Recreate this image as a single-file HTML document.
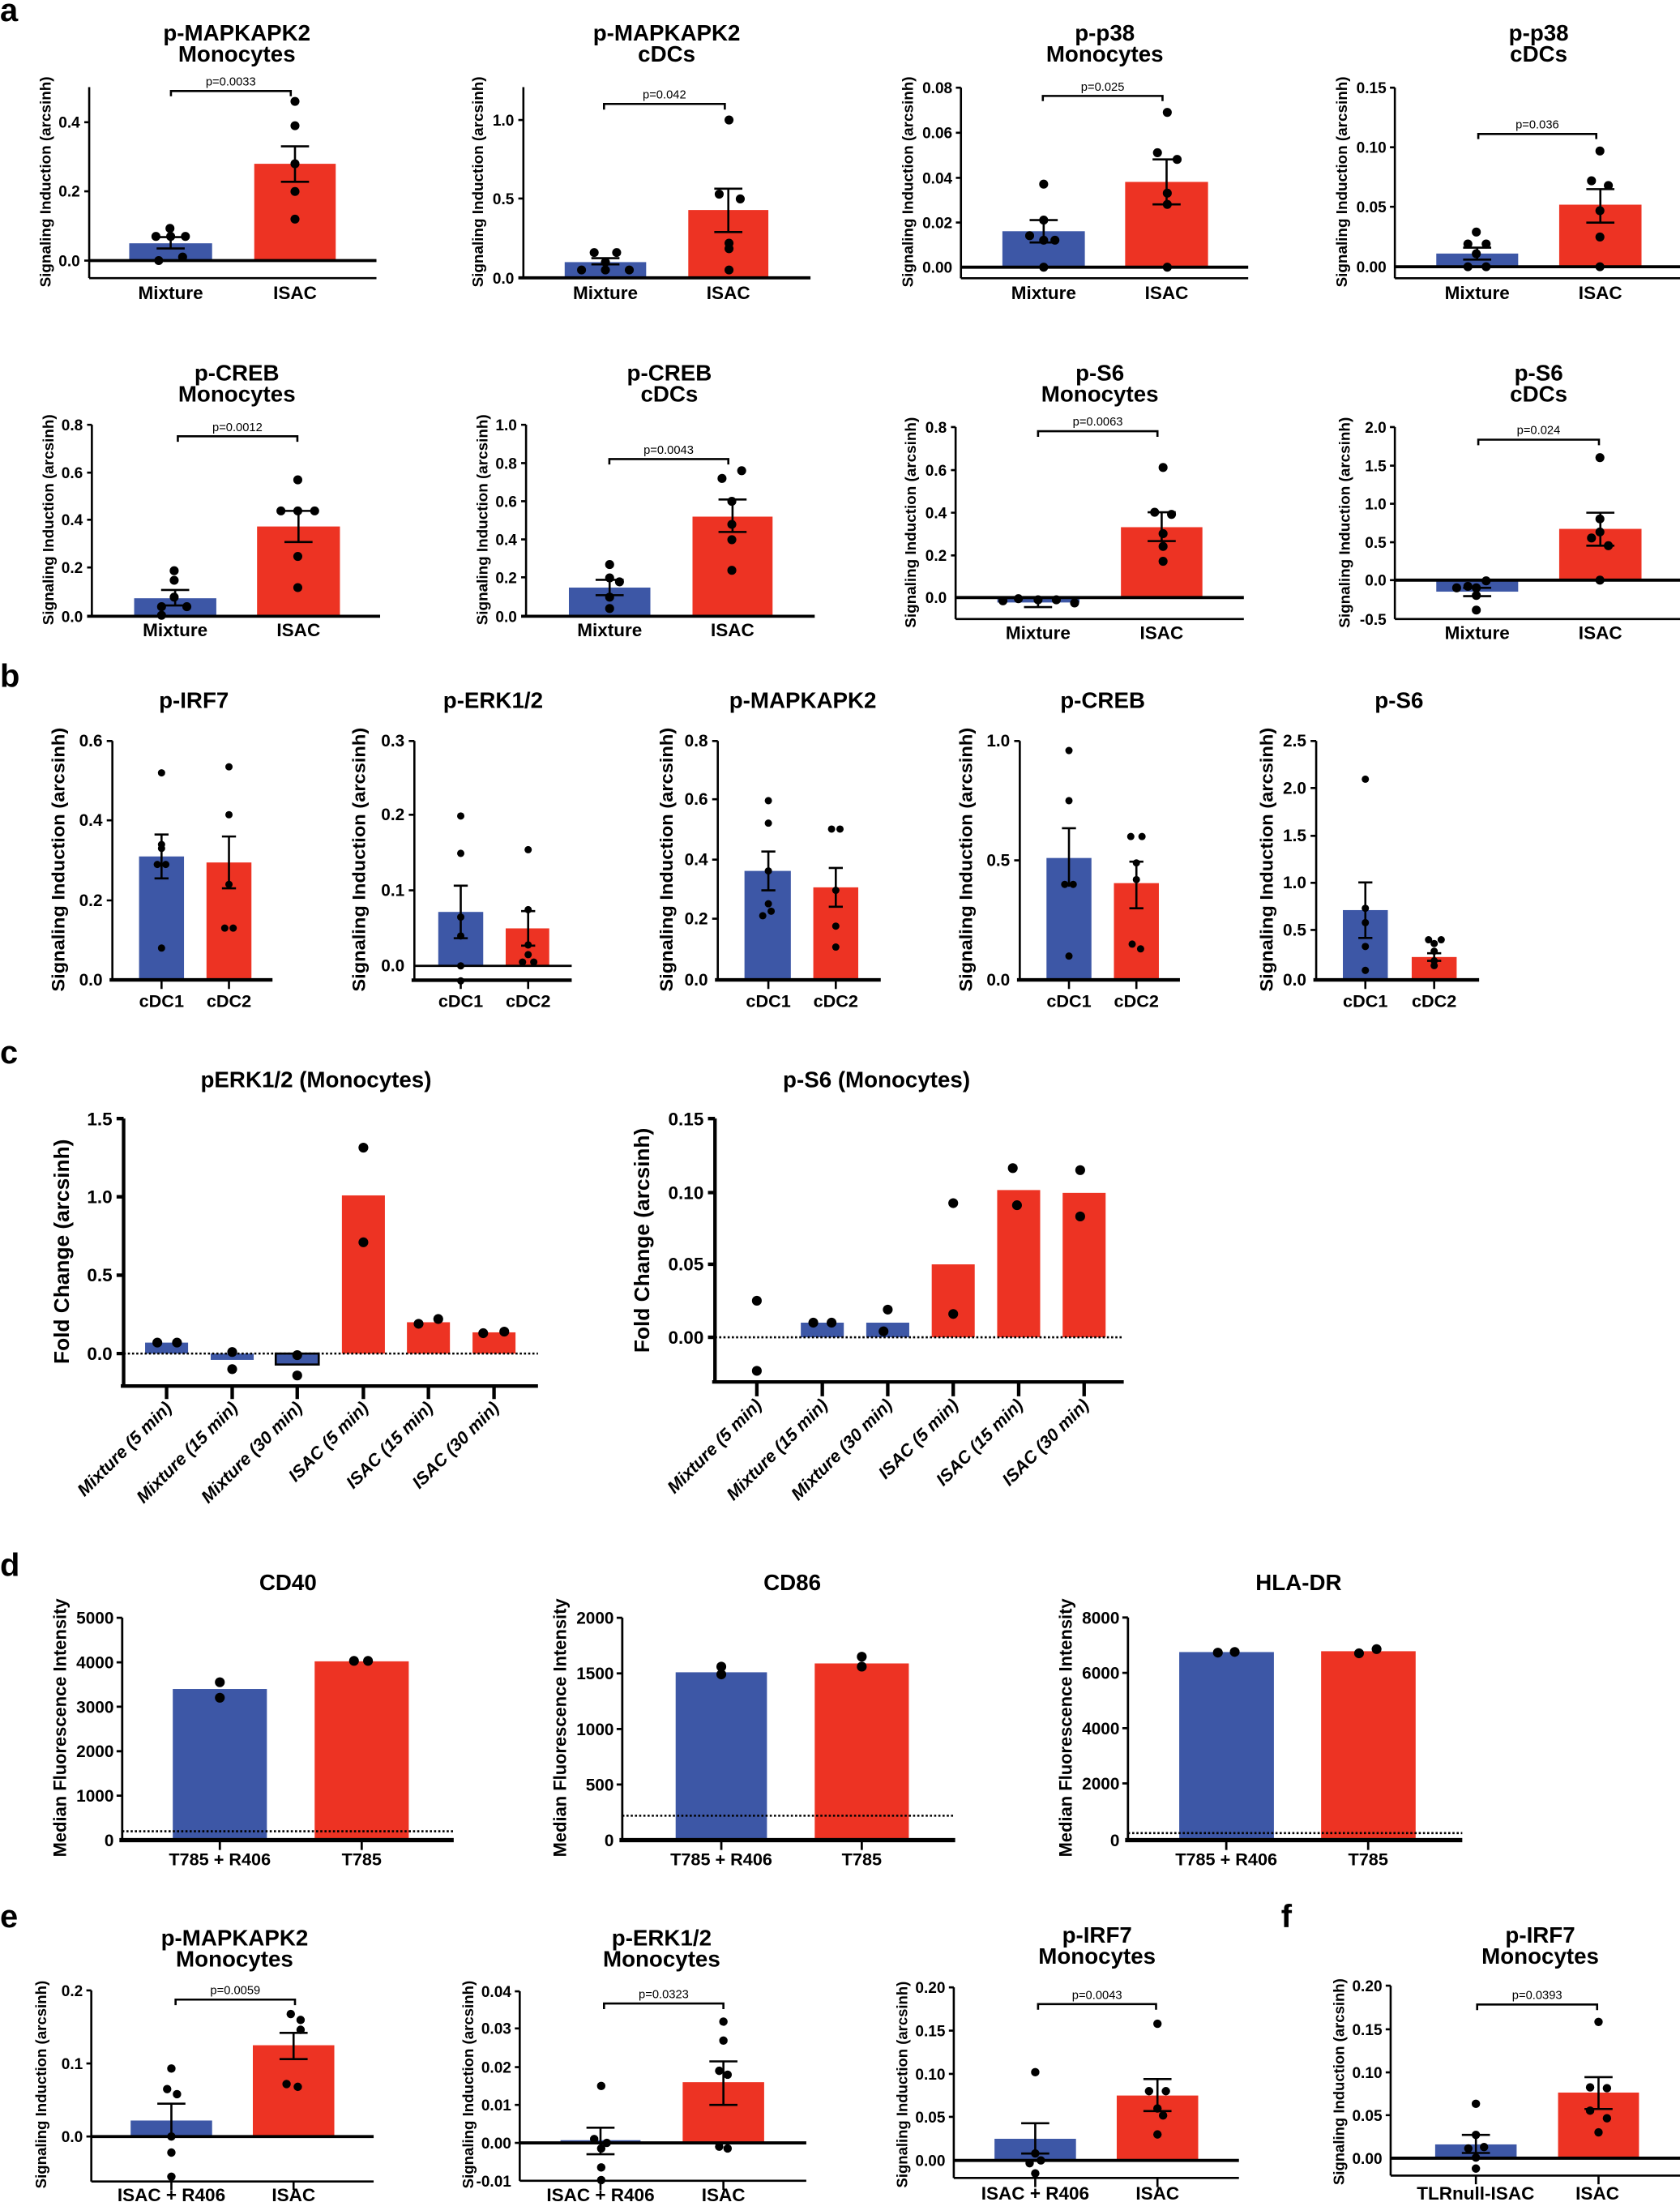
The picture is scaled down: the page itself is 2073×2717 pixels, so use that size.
<!DOCTYPE html>
<html><head><meta charset="utf-8"><style>
html,body{margin:0;padding:0;background:#fff}
svg{display:block}
text{font-family:"Liberation Sans",Arial,sans-serif;fill:#000}
.t{font-weight:bold;font-size:16px;text-anchor:middle}
.tk{font-weight:bold;font-size:11px;text-anchor:end}
.tkb{font-weight:bold;font-size:12px;text-anchor:end}
.tkc{font-weight:bold;font-size:13px;text-anchor:end}
.xl{font-weight:bold;font-size:13px;text-anchor:middle}
.xlb{font-weight:bold;font-size:12.5px;text-anchor:middle}
.p{font-size:8.5px;text-anchor:middle}
.yl{font-weight:bold;font-size:10.5px;text-anchor:middle}
.ylb{font-weight:bold;font-size:13px;text-anchor:middle}
.L{font-weight:bold;font-size:23px}
.rx{font-weight:bold;font-style:italic;font-size:12.5px;text-anchor:end}
.B{fill:#3d57a6}.R{fill:#ed3323}
.ax{stroke:#000;fill:none;stroke-width:1.5}
.z{stroke:#000;stroke-width:2.2}
.e{stroke:#000;fill:none;stroke-width:1.5}
.dt{stroke:#000;stroke-width:1.5;stroke-dasharray:1.5 1.5}
</style></head><body>
<svg width="2073" height="2717" viewBox="0 0 1196 1567.6" preserveAspectRatio="none" xmlns="http://www.w3.org/2000/svg">
<rect width="1196" height="1567.6" fill="#fff"/>
<!-- panel letters -->
<text class="L" x="0" y="15">a</text>
<text class="L" x="0" y="489">b</text>
<text class="L" x="0" y="757">c</text>
<text class="L" x="0" y="1122">d</text>
<text class="L" x="0" y="1372">e</text>
<text class="L" x="912" y="1372">f</text>

<!-- ========== a1 ========== -->
<text class="t" x="168.6" y="29">p-MAPKAPK2</text><text class="t" x="168.6" y="44">Monocytes</text>
<rect class="B" x="92" y="173.2" width="59" height="12.3"/><rect class="R" x="181" y="116.6" width="58" height="68.9"/>
<path class="ax" d="M63.5 62V198M60 87H63.5M60 136.2H63.5M60 185.5H63.5"/>
<line class="z" x1="63.5" y1="185.5" x2="268" y2="185.5"/><line class="ax" x1="63.5" y1="198" x2="268" y2="198" stroke-width="1.8"/>
<text class="tk" x="57" y="91">0.4</text><text class="tk" x="57" y="140">0.2</text><text class="tk" x="57" y="189.5">0.0</text>
<path class="e" d="M121.5 176.9V168.8M111.5 176.9H131.5M111.5 168.8H131.5M210 129.4V104.2M200 129.4H220M200 104.2H220"/>
<g><circle cx="121" cy="162.6" r="3.2"/><circle cx="111" cy="168.3" r="3.2"/><circle cx="121.5" cy="168.3" r="3.2"/><circle cx="132" cy="168.3" r="3.2"/><circle cx="130" cy="183" r="3.2"/><circle cx="113" cy="185.5" r="3.2"/>
<circle cx="210" cy="72.2" r="3.2"/><circle cx="210" cy="89.5" r="3.2"/><circle cx="210" cy="116.6" r="3.2"/><circle cx="210" cy="136.3" r="3.2"/><circle cx="210" cy="156" r="3.2"/></g>
<path class="e" d="M121.7 68.5V64.8H207V68.5" stroke-width="1.2"/><text class="p" x="164.3" y="61">p=0.0033</text>
<text class="xl" x="121.5" y="213">Mixture</text><text class="xl" x="210" y="213">ISAC</text>
<text class="yl" transform="translate(36,129.5) rotate(-90)" textLength="150" lengthAdjust="spacingAndGlyphs">Signaling Induction (arcsinh)</text>

<!-- ========== a2 ========== -->
<text class="t" x="474.6" y="29">p-MAPKAPK2</text><text class="t" x="474.6" y="44">cDCs</text>
<rect class="B" x="402" y="186.6" width="58" height="11.2"/><rect class="R" x="490" y="149.5" width="57" height="48.3"/>
<path class="ax" d="M372.6 62V197.8M369 85.4H372.6M369 141.3H372.6"/>
<line class="z" x1="369" y1="197.8" x2="577" y2="197.8"/>
<text class="tk" x="366" y="89.5">1.0</text><text class="tk" x="366" y="145.3">0.5</text><text class="tk" x="366" y="201.8">0.0</text>
<path class="e" d="M431 188.2V183.8M421 188.2H441M421 183.8H441M518.5 165.2V134.3M508.5 165.2H528.5M508.5 134.3H528.5"/>
<g><circle cx="423" cy="179.8" r="3.2"/><circle cx="439" cy="179.8" r="3.2"/><circle cx="431" cy="186.6" r="3.2"/><circle cx="414" cy="192.2" r="3.2"/><circle cx="431" cy="192.2" r="3.2"/><circle cx="448" cy="192.2" r="3.2"/>
<circle cx="519" cy="85.4" r="3.2"/><circle cx="512" cy="138.2" r="3.2"/><circle cx="527" cy="141.6" r="3.2"/><circle cx="519" cy="173.1" r="3.2"/><circle cx="519" cy="177" r="3.2"/><circle cx="519" cy="192.2" r="3.2"/></g>
<path class="e" d="M430 78V74H516V78" stroke-width="1.2"/><text class="p" x="473" y="70">p=0.042</text>
<text class="xl" x="431" y="213">Mixture</text><text class="xl" x="518.5" y="213">ISAC</text>
<text class="yl" transform="translate(344,129.5) rotate(-90)" textLength="150" lengthAdjust="spacingAndGlyphs">Signaling Induction (arcsinh)</text>

<!-- ========== a3 ========== -->
<text class="t" x="786.5" y="29">p-p38</text><text class="t" x="786.5" y="44">Monocytes</text>
<rect class="B" x="713.6" y="164.6" width="58.7" height="25.6"/><rect class="R" x="801" y="129.5" width="59" height="60.7"/>
<path class="ax" d="M684.1 62.4V198.1M680.5 62.4H684.1M680.5 94.5H684.1M680.5 126.6H684.1M680.5 158.4H684.1"/>
<line class="z" x1="684.1" y1="190.2" x2="888.6" y2="190.2"/><line class="ax" x1="684.1" y1="198.1" x2="888.6" y2="198.1" stroke-width="1.8"/>
<text class="tk" x="678" y="66.4">0.08</text><text class="tk" x="678" y="98.5">0.06</text><text class="tk" x="678" y="130.6">0.04</text><text class="tk" x="678" y="162.4">0.02</text><text class="tk" x="678" y="194.2">0.00</text>
<path class="e" d="M743 172.6V156.7M733 172.6H753M733 156.7H753M830.5 145.5V113.5M820.5 145.5H840.5M820.5 113.5H840.5"/>
<g><circle cx="743" cy="131.1" r="3.2"/><circle cx="743" cy="156.7" r="3.2"/><circle cx="733" cy="167.8" r="3.2"/><circle cx="751" cy="171" r="3.2"/><circle cx="743" cy="171" r="3.2"/><circle cx="743" cy="190.2" r="3.2"/>
<circle cx="831" cy="80" r="3.2"/><circle cx="824" cy="108.7" r="3.2"/><circle cx="838" cy="113.5" r="3.2"/><circle cx="831" cy="137.5" r="3.2"/><circle cx="831" cy="145.5" r="3.2"/><circle cx="831" cy="190.2" r="3.2"/></g>
<path class="e" d="M742.4 72V68.3H827.6V72" stroke-width="1.2"/><text class="p" x="785" y="64.5">p=0.025</text>
<text class="xl" x="743" y="213">Mixture</text><text class="xl" x="830.5" y="213">ISAC</text>
<text class="yl" transform="translate(650,129.5) rotate(-90)" textLength="150" lengthAdjust="spacingAndGlyphs">Signaling Induction (arcsinh)</text>

<!-- ========== a4 ========== -->
<text class="t" x="1095.4" y="29">p-p38</text><text class="t" x="1095.4" y="44">cDCs</text>
<rect class="B" x="1022.5" y="180.5" width="58.3" height="9.4"/><rect class="R" x="1110" y="145.7" width="58.6" height="44.2"/>
<path class="ax" d="M993 62.4V198.1M989.5 62.4H993M989.5 104.8H993M989.5 147.2H993"/>
<line class="z" x1="993" y1="189.9" x2="1196" y2="189.9"/><line class="ax" x1="993" y1="198.1" x2="1196" y2="198.1" stroke-width="1.8"/>
<text class="tk" x="987" y="66.4">0.15</text><text class="tk" x="987" y="108.8">0.10</text><text class="tk" x="987" y="151.2">0.05</text><text class="tk" x="987" y="193.9">0.00</text>
<path class="e" d="M1051.6 184.8V176.3M1041.6 184.8H1061.6M1041.6 176.3H1061.6M1139.3 158.5V134.65M1129.3 158.5H1149.3M1129.3 134.65H1149.3"/>
<g><circle cx="1051" cy="165.2" r="3.2"/><circle cx="1045" cy="173.7" r="3.2"/><circle cx="1058" cy="173.7" r="3.2"/><circle cx="1051" cy="180.6" r="3.2"/><circle cx="1045" cy="189.9" r="3.2"/><circle cx="1058" cy="189.9" r="3.2"/>
<circle cx="1139" cy="107.5" r="3.2"/><circle cx="1133" cy="128.7" r="3.2"/><circle cx="1145" cy="132.1" r="3.2"/><circle cx="1139" cy="150" r="3.2"/><circle cx="1139" cy="168.7" r="3.2"/><circle cx="1139" cy="189.9" r="3.2"/></g>
<path class="e" d="M1052.4 99V95.4H1136.4V99" stroke-width="1.2"/><text class="p" x="1094.4" y="91.5">p=0.036</text>
<text class="xl" x="1051.6" y="213">Mixture</text><text class="xl" x="1139.3" y="213">ISAC</text>
<text class="yl" transform="translate(959,129.5) rotate(-90)" textLength="150" lengthAdjust="spacingAndGlyphs">Signaling Induction (arcsinh)</text>

<!-- ========== a5 ========== -->
<text class="t" x="168.6" y="271">p-CREB</text><text class="t" x="168.6" y="286">Monocytes</text>
<rect class="B" x="95.5" y="425.9" width="58.5" height="12.8"/><rect class="R" x="183" y="374.8" width="59" height="63.9"/>
<path class="ax" d="M65.4 302.4V438.7M62 302.4H65.4M62 336.5H65.4M62 370H65.4M62 404H65.4"/>
<line class="z" x1="62" y1="438.7" x2="270.6" y2="438.7"/>
<text class="tk" x="59" y="306.4">0.8</text><text class="tk" x="59" y="340.5">0.6</text><text class="tk" x="59" y="374">0.4</text><text class="tk" x="59" y="408">0.2</text><text class="tk" x="59" y="442.7">0.0</text>
<path class="e" d="M124.7 431V420M114.7 431H134.7M114.7 420H134.7M212.5 385.9V363.7M202.5 385.9H222.5M202.5 363.7H222.5"/>
<g><circle cx="124" cy="406.3" r="3.2"/><circle cx="124" cy="413.1" r="3.2"/><circle cx="124" cy="425.1" r="3.2"/><circle cx="115" cy="431.9" r="3.2"/><circle cx="133" cy="431.9" r="3.2"/><circle cx="115" cy="438" r="3.2"/>
<circle cx="212" cy="341.6" r="3.2"/><circle cx="200" cy="363.7" r="3.2"/><circle cx="212" cy="363.7" r="3.2"/><circle cx="224" cy="363.7" r="3.2"/><circle cx="212" cy="396.1" r="3.2"/><circle cx="212" cy="418.3" r="3.2"/></g>
<path class="e" d="M126.6 314.5V310.6H211.7V314.5" stroke-width="1.2"/><text class="p" x="169" y="307">p=0.0012</text>
<text class="xl" x="124.7" y="453">Mixture</text><text class="xl" x="212.5" y="453">ISAC</text>
<text class="yl" transform="translate(38,370) rotate(-90)" textLength="150" lengthAdjust="spacingAndGlyphs">Signaling Induction (arcsinh)</text>

<!-- ========== a6 ========== -->
<text class="t" x="476.5" y="271">p-CREB</text><text class="t" x="476.5" y="286">cDCs</text>
<rect class="B" x="405" y="418.3" width="58" height="20.4"/><rect class="R" x="493" y="367.8" width="57" height="70.9"/>
<path class="ax" d="M374.5 302.4V438.7M371 302.4H374.5M371 329.7H374.5M371 356.8H374.5M371 384H374.5M371 411H374.5"/>
<line class="z" x1="371" y1="438.7" x2="580" y2="438.7"/>
<text class="tk" x="368" y="306.4">1.0</text><text class="tk" x="368" y="333.7">0.8</text><text class="tk" x="368" y="360.8">0.6</text><text class="tk" x="368" y="388">0.4</text><text class="tk" x="368" y="415">0.2</text><text class="tk" x="368" y="442.7">0.0</text>
<path class="e" d="M434 423.7V412.8M424 423.7H444M424 412.8H444M521.5 378.7V355.6M511.5 378.7H531.5M511.5 355.6H531.5"/>
<g><circle cx="434" cy="401.9" r="3.2"/><circle cx="434" cy="411.4" r="3.2"/><circle cx="441" cy="414.2" r="3.2"/><circle cx="434" cy="425.1" r="3.2"/><circle cx="434" cy="433.2" r="3.2"/>
<circle cx="528" cy="335.1" r="3.2"/><circle cx="514" cy="340.6" r="3.2"/><circle cx="521" cy="356.9" r="3.2"/><circle cx="521" cy="373.3" r="3.2"/><circle cx="521" cy="384.2" r="3.2"/><circle cx="521" cy="406" r="3.2"/></g>
<path class="e" d="M433.8 330.7V326.8H518.5V330.7" stroke-width="1.2"/><text class="p" x="476" y="323">p=0.0043</text>
<text class="xl" x="434" y="453">Mixture</text><text class="xl" x="521.5" y="453">ISAC</text>
<text class="yl" transform="translate(347,370) rotate(-90)" textLength="150" lengthAdjust="spacingAndGlyphs">Signaling Induction (arcsinh)</text>

<!-- ========== a7 ========== -->
<text class="t" x="783" y="271">p-S6</text><text class="t" x="783" y="286">Monocytes</text>
<rect class="B" x="710" y="425.4" width="58.5" height="3.5"/><rect class="R" x="798" y="375.3" width="58" height="50.1"/>
<path class="ax" d="M680.3 304V440.7M677 304H680.3M677 334.7H680.3M677 365H680.3M677 395.4H680.3"/>
<line class="z" x1="680.3" y1="425.4" x2="885.5" y2="425.4"/><line class="ax" x1="680.3" y1="440.7" x2="885.5" y2="440.7" stroke-width="1.8"/>
<text class="tk" x="674" y="308">0.8</text><text class="tk" x="674" y="338.7">0.6</text><text class="tk" x="674" y="369">0.4</text><text class="tk" x="674" y="399.4">0.2</text><text class="tk" x="674" y="429.4">0.0</text>
<path class="e" d="M739 432.2V426M729 432.2H749M827 385.2V364.7M817 385.2H837M817 364.7H837"/>
<g><circle cx="714" cy="427.7" r="3.2"/><circle cx="725" cy="426.2" r="3.2"/><circle cx="739" cy="427" r="3.2"/><circle cx="752" cy="427" r="3.2"/><circle cx="765" cy="429.2" r="3.2"/>
<circle cx="828" cy="332.8" r="3.2"/><circle cx="822" cy="364.7" r="3.2"/><circle cx="834" cy="366.2" r="3.2"/><circle cx="828" cy="379.9" r="3.2"/><circle cx="828" cy="389" r="3.2"/><circle cx="828" cy="399.6" r="3.2"/></g>
<path class="e" d="M739 311V307H824V311" stroke-width="1.2"/><text class="p" x="781.5" y="303">p=0.0063</text>
<text class="xl" x="739" y="455">Mixture</text><text class="xl" x="827" y="455">ISAC</text>
<text class="yl" transform="translate(652,372) rotate(-90)" textLength="150" lengthAdjust="spacingAndGlyphs">Signaling Induction (arcsinh)</text>

<!-- ========== a8 ========== -->
<text class="t" x="1095.4" y="271">p-S6</text><text class="t" x="1095.4" y="286">cDCs</text>
<rect class="B" x="1022.5" y="413" width="58.3" height="8.2"/><rect class="R" x="1110" y="376.5" width="58.6" height="36.5"/>
<path class="ax" d="M993 304V440.7M989.5 304H993M989.5 331.5H993M989.5 358.6H993M989.5 386H993M989.5 413H993"/>
<line class="z" x1="993" y1="413" x2="1196" y2="413"/><line class="ax" x1="993" y1="440.7" x2="1196" y2="440.7" stroke-width="1.8"/>
<text class="tk" x="987" y="308">2.0</text><text class="tk" x="987" y="335.5">1.5</text><text class="tk" x="987" y="362.6">1.0</text><text class="tk" x="987" y="390">0.5</text><text class="tk" x="987" y="417">0.0</text><text class="tk" x="987" y="444.7">-0.5</text>
<path class="e" d="M1051.6 424.4V418.5M1041.6 424.4H1061.6M1041.6 418.5H1061.6M1139.3 388.5V365M1129.3 388.5H1149.3M1129.3 365H1149.3"/>
<g><circle cx="1058" cy="413.5" r="3.2"/><circle cx="1045" cy="417.4" r="3.2"/><circle cx="1037" cy="418.5" r="3.2"/><circle cx="1051" cy="418.5" r="3.2"/><circle cx="1051" cy="423.9" r="3.2"/><circle cx="1051" cy="434.3" r="3.2"/>
<circle cx="1139" cy="325.8" r="3.2"/><circle cx="1139" cy="369.4" r="3.2"/><circle cx="1139" cy="378.7" r="3.2"/><circle cx="1133" cy="383" r="3.2"/><circle cx="1145" cy="388.5" r="3.2"/><circle cx="1139" cy="413" r="3.2"/></g>
<path class="e" d="M1052.4 317V313H1138.3V317" stroke-width="1.2"/><text class="p" x="1095.3" y="309">p=0.024</text>
<text class="xl" x="1051.6" y="455">Mixture</text><text class="xl" x="1139.3" y="455">ISAC</text>
<text class="yl" transform="translate(961,372) rotate(-90)" textLength="150" lengthAdjust="spacingAndGlyphs">Signaling Induction (arcsinh)</text>

<!-- ========== b1 ========== -->
<text class="t" x="138" y="504">p-IRF7</text>
<rect class="B" x="99" y="609.7" width="32" height="87.9"/><rect class="R" x="147" y="614" width="32" height="83.6"/>
<path class="ax" d="M80 527.5V697.6M76 527.5H80M76 584H80M76 641H80M115 697.6V704M163 697.6V704"/>
<line x1="78" y1="697.6" x2="194" y2="697.6" stroke="#000" stroke-width="2.5"/>
<text class="tkb" x="73" y="531.5">0.6</text><text class="tkb" x="73" y="588">0.4</text><text class="tkb" x="73" y="645">0.2</text><text class="tkb" x="73" y="701.6">0.0</text>
<path class="e" d="M115 625.3V594.1M110 625.3H120M110 594.1H120M163 632.4V595.5M158 632.4H168M158 595.5H168"/>
<g><circle cx="115" cy="550.2" r="2.6"/><circle cx="115" cy="601.2" r="2.6"/><circle cx="115" cy="604" r="2.6"/><circle cx="112" cy="615.4" r="2.6"/><circle cx="118" cy="615.4" r="2.6"/><circle cx="115" cy="674.9" r="2.6"/>
<circle cx="163" cy="545.9" r="2.6"/><circle cx="163" cy="580" r="2.6"/><circle cx="163" cy="629.6" r="2.6"/><circle cx="160" cy="660.7" r="2.6"/><circle cx="166" cy="660.7" r="2.6"/></g>
<text class="xlb" x="115" y="717">cDC1</text><text class="xlb" x="163" y="717">cDC2</text>
<text class="ylb" transform="translate(46,612) rotate(-90)" textLength="188" lengthAdjust="spacingAndGlyphs">Signaling Induction (arcsinh)</text>

<!-- ========== b2 ========== -->
<text class="t" x="351" y="504">p-ERK1/2</text>
<rect class="B" x="312" y="649.2" width="32" height="38.4"/><rect class="R" x="360" y="660.9" width="31" height="26.7"/>
<path class="ax" d="M295 527.5V697.8M291 527.5H295M291 580H295M291 633.8H295M328 697.8V704M376 697.8V704"/>
<line x1="295" y1="687.6" x2="407" y2="687.6" stroke="#000" stroke-width="1.6"/>
<line x1="293" y1="697.8" x2="407" y2="697.8" stroke="#000" stroke-width="2.5"/>
<text class="tkb" x="288" y="531.5">0.3</text><text class="tkb" x="288" y="584">0.2</text><text class="tkb" x="288" y="637.8">0.1</text><text class="tkb" x="288" y="691.6">0.0</text>
<path class="e" d="M328 667.9V630.5M323 667.9H333M323 630.5H333M376 673.2V648.6M371 673.2H381M371 648.6H381"/>
<g><circle cx="328" cy="580.9" r="2.6"/><circle cx="328" cy="607.5" r="2.6"/><circle cx="328" cy="652.9" r="2.6"/><circle cx="328" cy="666.3" r="2.6"/><circle cx="328" cy="687.6" r="2.6"/><circle cx="328" cy="698.3" r="2.6"/>
<circle cx="376" cy="604.9" r="2.6"/><circle cx="376" cy="647.6" r="2.6"/><circle cx="376" cy="672.7" r="2.6"/><circle cx="376" cy="679.6" r="2.6"/><circle cx="372" cy="684.9" r="2.6"/><circle cx="380" cy="684.9" r="2.6"/></g>
<text class="xlb" x="328" y="717">cDC1</text><text class="xlb" x="376" y="717">cDC2</text>
<text class="ylb" transform="translate(260,612) rotate(-90)" textLength="188" lengthAdjust="spacingAndGlyphs">Signaling Induction (arcsinh)</text>

<!-- ========== b3 ========== -->
<text class="t" x="571.5" y="504">p-MAPKAPK2</text>
<rect class="B" x="530" y="620" width="33" height="77.6"/><rect class="R" x="579" y="631.7" width="32" height="65.9"/>
<path class="ax" d="M511 527.5V697.6M507 527.5H511M507 569H511M507 612H511M507 654H511M547 697.6V704M595 697.6V704"/>
<line x1="509" y1="697.6" x2="627" y2="697.6" stroke="#000" stroke-width="2.5"/>
<text class="tkb" x="504" y="531.5">0.8</text><text class="tkb" x="504" y="573">0.6</text><text class="tkb" x="504" y="616">0.4</text><text class="tkb" x="504" y="658">0.2</text><text class="tkb" x="504" y="701.6">0.0</text>
<path class="e" d="M547 633.8V606.2M542 633.8H552M542 606.2H552M595 645.5V617.9M590 645.5H600M590 617.9H600"/>
<g><circle cx="547" cy="570" r="2.6"/><circle cx="547" cy="586" r="2.6"/><circle cx="547" cy="620" r="2.6"/><circle cx="547" cy="643.4" r="2.6"/><circle cx="549" cy="648.7" r="2.6"/><circle cx="543" cy="651.9" r="2.6"/>
<circle cx="592" cy="590.2" r="2.6"/><circle cx="598" cy="590.2" r="2.6"/><circle cx="595" cy="633.8" r="2.6"/><circle cx="595" cy="659.3" r="2.6"/><circle cx="595" cy="674.2" r="2.6"/></g>
<text class="xlb" x="547" y="717">cDC1</text><text class="xlb" x="595" y="717">cDC2</text>
<text class="ylb" transform="translate(479,612) rotate(-90)" textLength="188" lengthAdjust="spacingAndGlyphs">Signaling Induction (arcsinh)</text>

<!-- ========== b4 ========== -->
<text class="t" x="785" y="504">p-CREB</text>
<rect class="B" x="745" y="610.8" width="32" height="86.8"/><rect class="R" x="793" y="628.7" width="32" height="68.9"/>
<path class="ax" d="M726 527.5V697.6M722 527.5H726M722 612.5H726M761 697.6V704M809 697.6V704"/>
<line x1="724" y1="697.6" x2="840" y2="697.6" stroke="#000" stroke-width="2.5"/>
<text class="tkb" x="719" y="531.5">1.0</text><text class="tkb" x="719" y="616.5">0.5</text><text class="tkb" x="719" y="701.6">0.0</text>
<path class="e" d="M761 631.3V589.6M756 589.6H766M809 646.6V613.4M804 646.6H814M804 613.4H814"/>
<g><circle cx="761" cy="534.3" r="2.6"/><circle cx="761" cy="570" r="2.6"/><circle cx="758" cy="629.6" r="2.6"/><circle cx="764" cy="629.6" r="2.6"/><circle cx="761" cy="680.6" r="2.6"/>
<circle cx="805" cy="595.5" r="2.6"/><circle cx="813" cy="595.5" r="2.6"/><circle cx="809" cy="614.3" r="2.6"/><circle cx="809" cy="626.2" r="2.6"/><circle cx="806" cy="672.1" r="2.6"/><circle cx="812" cy="675.5" r="2.6"/></g>
<text class="xlb" x="761" y="717">cDC1</text><text class="xlb" x="809" y="717">cDC2</text>
<text class="ylb" transform="translate(692,612) rotate(-90)" textLength="188" lengthAdjust="spacingAndGlyphs">Signaling Induction (arcsinh)</text>

<!-- ========== b5 ========== -->
<text class="t" x="996" y="504">p-S6</text>
<rect class="B" x="956" y="647.9" width="32" height="49.7"/><rect class="R" x="1005" y="681.3" width="32" height="16.3"/>
<path class="ax" d="M937 527.5V697.6M933 527.5H937M933 561H937M933 595H937M933 628.5H937M933 662H937M972 697.6V704M1021 697.6V704"/>
<line x1="935" y1="697.6" x2="1053" y2="697.6" stroke="#000" stroke-width="2.5"/>
<text class="tkb" x="930" y="531.5">2.5</text><text class="tkb" x="930" y="565">2.0</text><text class="tkb" x="930" y="599">1.5</text><text class="tkb" x="930" y="632.5">1.0</text><text class="tkb" x="930" y="666">0.5</text><text class="tkb" x="930" y="701.6">0.0</text>
<path class="e" d="M972 667.7V628.2M967 667.7H977M967 628.2H977M1021 684V678.6M1016 684H1026M1016 678.6H1026"/>
<g><circle cx="972" cy="554.7" r="2.6"/><circle cx="972" cy="646.6" r="2.6"/><circle cx="972" cy="656.8" r="2.6"/><circle cx="972" cy="673.8" r="2.6"/><circle cx="972" cy="690.8" r="2.6"/>
<circle cx="1017" cy="669" r="2.6"/><circle cx="1026" cy="669" r="2.6"/><circle cx="1021" cy="671.7" r="2.6"/><circle cx="1021" cy="677.2" r="2.6"/><circle cx="1021" cy="684" r="2.6"/><circle cx="1021" cy="687.4" r="2.6"/></g>
<text class="xlb" x="972" y="717">cDC1</text><text class="xlb" x="1021" y="717">cDC2</text>
<text class="ylb" transform="translate(906,612) rotate(-90)" textLength="188" lengthAdjust="spacingAndGlyphs">Signaling Induction (arcsinh)</text>

<!-- ========== c1 ========== -->
<text class="t" x="225" y="774">pERK1/2 (Monocytes)</text>
<rect class="B" x="103.3" y="955.8" width="30.6" height="7.8"/><rect class="B" x="150" y="963.6" width="30.6" height="4.5"/>
<rect class="B" x="196.3" y="963.6" width="30.6" height="7.8" stroke="#000" stroke-width="1.5"/>
<rect class="R" x="243.4" y="851" width="30.6" height="112.6"/><rect class="R" x="289.7" y="941.3" width="30.6" height="22.3"/><rect class="R" x="336.4" y="948.5" width="30.6" height="15.1"/>
<line class="dt" x1="88" y1="963.6" x2="383" y2="963.6"/>
<path d="M88 796.3V986.7M83 796.3H88M83 852H88M83 907.8H88M83 963.6H88M86 986.7H383M118.6 986.7V996M165.3 986.7V996M211.6 986.7V996M258.7 986.7V996M305 986.7V996M351.7 986.7V996" stroke="#000" stroke-width="2.5" fill="none"/>
<text class="tkc" x="80" y="801">1.5</text><text class="tkc" x="80" y="856.5">1.0</text><text class="tkc" x="80" y="912.3">0.5</text><text class="tkc" x="80" y="968">0.0</text>
<g><circle cx="112" cy="955.8" r="3.5"/><circle cx="126" cy="955.8" r="3.5"/><circle cx="165.3" cy="962.5" r="3.5"/><circle cx="165.3" cy="974.7" r="3.5"/><circle cx="211.6" cy="964.7" r="3.5"/><circle cx="211.6" cy="979.2" r="3.5"/>
<circle cx="258.7" cy="817" r="3.5"/><circle cx="258.7" cy="884.4" r="3.5"/><circle cx="298" cy="942.4" r="3.5"/><circle cx="312" cy="939" r="3.5"/><circle cx="344" cy="949.1" r="3.5"/><circle cx="359" cy="948" r="3.5"/></g>
<text class="rx" transform="translate(123,1003) rotate(-45)">Mixture (5 min)</text>
<text class="rx" transform="translate(170,1003) rotate(-45)">Mixture (15 min)</text>
<text class="rx" transform="translate(216,1003) rotate(-45)">Mixture (30 min)</text>
<text class="rx" transform="translate(263,1003) rotate(-45)">ISAC (5 min)</text>
<text class="rx" transform="translate(309,1003) rotate(-45)">ISAC (15 min)</text>
<text class="rx" transform="translate(356,1003) rotate(-45)">ISAC (30 min)</text>
<text class="t" transform="translate(49,891) rotate(-90)" textLength="160" lengthAdjust="spacingAndGlyphs" style="font-size:15px">Fold Change (arcsinh)</text>

<!-- ========== c2 ========== -->
<text class="t" x="624" y="774">p-S6 (Monocytes)</text>
<rect class="B" x="570.1" y="941.6" width="30.6" height="10.4"/><rect class="B" x="616.7" y="941.6" width="30.6" height="10.4"/>
<rect class="R" x="663.3" y="900.1" width="30.6" height="51.9"/><rect class="R" x="709.9" y="847.2" width="30.6" height="104.8"/><rect class="R" x="756.5" y="849.2" width="30.6" height="102.8"/>
<line class="dt" x1="509" y1="952" x2="800" y2="952"/>
<path d="M509 796.3V983.8M504 796.3H509M504 849H509M504 900H509M504 952H509M507 983.8H800M538.8 983.8V994M585.4 983.8V994M632 983.8V994M678.6 983.8V994M725.2 983.8V994M771.8 983.8V994" stroke="#000" stroke-width="2.5" fill="none"/>
<text class="tkc" x="501" y="801">0.15</text><text class="tkc" x="501" y="853.5">0.10</text><text class="tkc" x="501" y="904.5">0.05</text><text class="tkc" x="501" y="956.5">0.00</text>
<g><circle cx="538.8" cy="926" r="3.5"/><circle cx="538.8" cy="975.9" r="3.5"/><circle cx="579" cy="941.6" r="3.5"/><circle cx="592" cy="941.6" r="3.5"/><circle cx="632" cy="932.3" r="3.5"/><circle cx="629" cy="947.8" r="3.5"/>
<circle cx="678.6" cy="856.5" r="3.5"/><circle cx="678.6" cy="935.4" r="3.5"/><circle cx="721" cy="831.6" r="3.5"/><circle cx="724" cy="858" r="3.5"/><circle cx="769" cy="833" r="3.5"/><circle cx="769" cy="866" r="3.5"/></g>
<text class="rx" transform="translate(543,1001) rotate(-45)">Mixture (5 min)</text>
<text class="rx" transform="translate(590,1001) rotate(-45)">Mixture (15 min)</text>
<text class="rx" transform="translate(636,1001) rotate(-45)">Mixture (30 min)</text>
<text class="rx" transform="translate(683,1001) rotate(-45)">ISAC (5 min)</text>
<text class="rx" transform="translate(729,1001) rotate(-45)">ISAC (15 min)</text>
<text class="rx" transform="translate(776,1001) rotate(-45)">ISAC (30 min)</text>
<text class="t" transform="translate(462,883) rotate(-90)" textLength="160" lengthAdjust="spacingAndGlyphs" style="font-size:15px">Fold Change (arcsinh)</text>

<!-- ========== d1 ========== -->
<text class="t" x="205" y="1132">CD40</text>
<rect class="B" x="123" y="1202.4" width="67" height="107.6"/><rect class="R" x="224" y="1182.7" width="67" height="127.3"/>
<line class="dt" x1="87" y1="1303.7" x2="323" y2="1303.7"/>
<path d="M87 1151.7V1310M83 1151.7H87M83 1183.4H87M83 1215H87M83 1246.7H87M83 1278.3H87M156.5 1310V1317M257.5 1310V1317" stroke="#000" stroke-width="1.6" fill="none"/>
<line x1="85" y1="1310" x2="323" y2="1310" stroke="#000" stroke-width="3"/>
<text class="tkb" x="81" y="1156">5000</text><text class="tkb" x="81" y="1187.7">4000</text><text class="tkb" x="81" y="1219.3">3000</text><text class="tkb" x="81" y="1251">2000</text><text class="tkb" x="81" y="1282.6">1000</text><text class="tkb" x="81" y="1314.3">0</text>
<g><circle cx="156.5" cy="1197.6" r="3.5"/><circle cx="156.5" cy="1208.6" r="3.5"/><circle cx="252" cy="1182.4" r="3.5"/><circle cx="262" cy="1182.4" r="3.5"/></g>
<text class="xlb" x="156.5" y="1328">T785 + R406</text><text class="xlb" x="257.5" y="1328">T785</text>
<text class="ylb" transform="translate(47,1230) rotate(-90)" textLength="184" lengthAdjust="spacingAndGlyphs">Median Fluorescence Intensity</text>

<!-- ========== d2 ========== -->
<text class="t" x="564" y="1132">CD86</text>
<rect class="B" x="481" y="1190.5" width="65" height="119.5"/><rect class="R" x="580" y="1184.2" width="67" height="125.8"/>
<line class="dt" x1="443" y1="1292.6" x2="680" y2="1292.6"/>
<path d="M443 1151.7V1310M439 1151.7H443M439 1191.3H443M439 1230.9H443M439 1270.4H443M513.5 1310V1317M613.5 1310V1317" stroke="#000" stroke-width="1.6" fill="none"/>
<line x1="441" y1="1310" x2="680" y2="1310" stroke="#000" stroke-width="3"/>
<text class="tkb" x="437" y="1156">2000</text><text class="tkb" x="437" y="1195.6">1500</text><text class="tkb" x="437" y="1235.2">1000</text><text class="tkb" x="437" y="1274.7">500</text><text class="tkb" x="437" y="1314.3">0</text>
<g><circle cx="513.5" cy="1186.5" r="3.5"/><circle cx="513.5" cy="1192" r="3.5"/><circle cx="613.5" cy="1179.4" r="3.5"/><circle cx="613.5" cy="1186.5" r="3.5"/></g>
<text class="xlb" x="513.5" y="1328">T785 + R406</text><text class="xlb" x="613.5" y="1328">T785</text>
<text class="ylb" transform="translate(403,1230) rotate(-90)" textLength="184" lengthAdjust="spacingAndGlyphs">Median Fluorescence Intensity</text>

<!-- ========== d3 ========== -->
<text class="t" x="924.5" y="1132">HLA-DR</text>
<rect class="B" x="839.5" y="1176.1" width="67.4" height="133.9"/><rect class="R" x="940.5" y="1175.5" width="67.3" height="134.5"/>
<line class="dt" x1="803" y1="1305" x2="1041" y2="1305"/>
<path d="M803 1151.5V1310M799 1151.5H803M799 1190.9H803M799 1230.3H803M799 1269.6H803M873 1310V1317M974 1310V1317" stroke="#000" stroke-width="1.6" fill="none"/>
<line x1="801" y1="1310" x2="1041" y2="1310" stroke="#000" stroke-width="3"/>
<text class="tkb" x="797" y="1156">8000</text><text class="tkb" x="797" y="1195.2">6000</text><text class="tkb" x="797" y="1234.6">4000</text><text class="tkb" x="797" y="1273.9">2000</text><text class="tkb" x="797" y="1314.3">0</text>
<g><circle cx="867" cy="1176.5" r="3.5"/><circle cx="879" cy="1176" r="3.5"/><circle cx="967.5" cy="1177" r="3.5"/><circle cx="980" cy="1174" r="3.5"/></g>
<text class="xlb" x="873" y="1328">T785 + R406</text><text class="xlb" x="974" y="1328">T785</text>
<text class="ylb" transform="translate(763,1230) rotate(-90)" textLength="184" lengthAdjust="spacingAndGlyphs">Median Fluorescence Intensity</text>

<!-- ========== e1 ========== -->
<text class="t" x="167" y="1385">p-MAPKAPK2</text><text class="t" x="167" y="1400">Monocytes</text>
<rect class="B" x="93" y="1509.6" width="58" height="11.4"/><rect class="R" x="180" y="1456" width="58" height="65"/>
<path class="ax" d="M65 1417V1553M61.5 1417H65M61.5 1469H65M61.5 1521H65M122 1553V1559M209 1553V1559"/>
<line class="z" x1="65" y1="1521" x2="266" y2="1521"/><line class="ax" x1="65" y1="1553" x2="266" y2="1553" stroke-width="1.8"/>
<text class="tk" x="59" y="1421">0.2</text><text class="tk" x="59" y="1473">0.1</text><text class="tk" x="59" y="1525">0.0</text>
<path class="e" d="M122 1521V1497.6M112 1497.6H132M209 1465.9V1447.2M199 1465.9H219M199 1447.2H219"/>
<g><circle cx="122" cy="1472.6" r="3"/><circle cx="119" cy="1487.2" r="3"/><circle cx="126" cy="1490.8" r="3"/><circle cx="122" cy="1521" r="3"/><circle cx="122" cy="1532.4" r="3"/><circle cx="122" cy="1549.6" r="3"/>
<circle cx="207" cy="1433.8" r="3"/><circle cx="214" cy="1438" r="3"/><circle cx="214" cy="1445" r="3"/><circle cx="204" cy="1483.6" r="3"/><circle cx="212" cy="1485.6" r="3"/></g>
<path class="e" d="M125 1427.5V1423.5H210V1427.5" stroke-width="1.2"/><text class="p" x="167.5" y="1419.5">p=0.0059</text>
<text class="xl" x="122" y="1567">ISAC + R406</text><text class="xl" x="209" y="1567">ISAC</text>
<text class="yl" transform="translate(33,1484) rotate(-90)" textLength="148" lengthAdjust="spacingAndGlyphs">Signaling Induction (arcsinh)</text>

<!-- ========== e2 ========== -->
<text class="t" x="471" y="1385">p-ERK1/2</text><text class="t" x="471" y="1400">Monocytes</text>
<rect class="B" x="399" y="1523.6" width="57" height="1.9"/><rect class="R" x="486" y="1482.3" width="58" height="43.2"/>
<path class="ax" d="M370 1417.6V1552.5M366.5 1417.6H370M366.5 1444H370M366.5 1471.6H370M366.5 1498.5H370M366.5 1525.5H370M427.5 1552.5V1559M515 1552.5V1559"/>
<line class="z" x1="370" y1="1525.5" x2="574" y2="1525.5"/><line class="ax" x1="370" y1="1552.5" x2="574" y2="1552.5" stroke-width="1.8"/>
<text class="tk" x="364" y="1421.6">0.04</text><text class="tk" x="364" y="1448">0.03</text><text class="tk" x="364" y="1475.6">0.02</text><text class="tk" x="364" y="1502.5">0.01</text><text class="tk" x="364" y="1529.5">0.00</text><text class="tk" x="364" y="1556.5">-0.01</text>
<path class="e" d="M427.5 1533.6V1514.7M417.5 1533.6H437.5M417.5 1514.7H437.5M515 1498.5V1467.5M505 1498.5H525M505 1467.5H525"/>
<g><circle cx="428" cy="1485" r="3"/><circle cx="423" cy="1522.8" r="3"/><circle cx="432" cy="1525.5" r="3"/><circle cx="428" cy="1529.5" r="3"/><circle cx="428" cy="1543" r="3"/><circle cx="428" cy="1552" r="3"/>
<circle cx="515" cy="1439.2" r="3"/><circle cx="515" cy="1452.7" r="3"/><circle cx="512" cy="1474.2" r="3"/><circle cx="518" cy="1477" r="3"/><circle cx="512" cy="1528.2" r="3"/><circle cx="518" cy="1529.5" r="3"/></g>
<path class="e" d="M430 1430.3V1426.3H515V1430.3" stroke-width="1.2"/><text class="p" x="472.5" y="1422.5">p=0.0323</text>
<text class="xl" x="427.5" y="1567">ISAC + R406</text><text class="xl" x="515" y="1567">ISAC</text>
<text class="yl" transform="translate(337,1484) rotate(-90)" textLength="148" lengthAdjust="spacingAndGlyphs">Signaling Induction (arcsinh)</text>

<!-- ========== e3 ========== -->
<text class="t" x="781" y="1383">p-IRF7</text><text class="t" x="781" y="1398">Monocytes</text>
<rect class="B" x="708" y="1522.6" width="58" height="15.4"/><rect class="R" x="795" y="1491.8" width="58" height="46.2"/>
<path class="ax" d="M679 1414.8V1550.5M675.5 1414.8H679M675.5 1445.6H679M675.5 1476.4H679M675.5 1507H679M737 1550.5V1557M824 1550.5V1557"/>
<line class="z" x1="679" y1="1538" x2="882" y2="1538"/><line class="ax" x1="679" y1="1550.5" x2="882" y2="1550.5" stroke-width="1.8"/>
<text class="tk" x="673" y="1418.8">0.20</text><text class="tk" x="673" y="1449.6">0.15</text><text class="tk" x="673" y="1480.4">0.10</text><text class="tk" x="673" y="1511">0.05</text><text class="tk" x="673" y="1542">0.00</text>
<path class="e" d="M737 1533.1V1511.5M727 1533.1H747M727 1511.5H747M824 1502.9V1480.1M814 1502.9H834M814 1480.1H834"/>
<g><circle cx="737" cy="1475.2" r="3"/><circle cx="737" cy="1533" r="3"/><circle cx="741" cy="1538" r="3"/><circle cx="733" cy="1540" r="3"/><circle cx="737" cy="1547.2" r="3"/>
<circle cx="824" cy="1440.7" r="3"/><circle cx="818" cy="1488.7" r="3"/><circle cx="830" cy="1488.7" r="3"/><circle cx="824" cy="1501" r="3"/><circle cx="828" cy="1506" r="3"/><circle cx="824" cy="1519.5" r="3"/></g>
<path class="e" d="M739 1430.7V1426.7H823V1430.7" stroke-width="1.2"/><text class="p" x="781" y="1423">p=0.0043</text>
<text class="xl" x="737" y="1566">ISAC + R406</text><text class="xl" x="824" y="1566">ISAC</text>
<text class="yl" transform="translate(646,1484) rotate(-90)" textLength="147" lengthAdjust="spacingAndGlyphs">Signaling Induction (arcsinh)</text>

<!-- ========== f ========== -->
<text class="t" x="1096.5" y="1383">p-IRF7</text><text class="t" x="1096.5" y="1398">Monocytes</text>
<rect class="B" x="1021.7" y="1526.6" width="58" height="9.8"/><rect class="R" x="1109.2" y="1489.7" width="57.6" height="46.7"/>
<path class="ax" d="M990 1413.6V1548.8M986.5 1413.6H990M986.5 1444.7H990M986.5 1475.3H990M986.5 1505.8H990M1050.7 1548.8V1555M1138 1548.8V1555"/>
<line class="z" x1="990" y1="1536.4" x2="1196" y2="1536.4"/><line class="ax" x1="990" y1="1548.8" x2="1196" y2="1548.8" stroke-width="1.8"/>
<text class="tk" x="984" y="1417.6">0.20</text><text class="tk" x="984" y="1448.7">0.15</text><text class="tk" x="984" y="1479.3">0.10</text><text class="tk" x="984" y="1509.8">0.05</text><text class="tk" x="984" y="1540.4">0.00</text>
<path class="e" d="M1050.7 1532.7V1519.8M1040.7 1532.7H1060.7M1040.7 1519.8H1060.7M1138 1501.4V1478.7M1128 1501.4H1148M1128 1478.7H1148"/>
<g><circle cx="1050.7" cy="1497.7" r="3"/><circle cx="1050.7" cy="1519.8" r="3"/><circle cx="1045.3" cy="1529.5" r="3"/><circle cx="1056.5" cy="1528.5" r="3"/><circle cx="1050.7" cy="1536" r="3"/><circle cx="1050.7" cy="1543.8" r="3"/>
<circle cx="1138" cy="1439.4" r="3"/><circle cx="1132" cy="1486" r="3"/><circle cx="1144" cy="1486.6" r="3"/><circle cx="1132" cy="1502.6" r="3"/><circle cx="1144" cy="1508" r="3"/><circle cx="1138" cy="1518" r="3"/></g>
<path class="e" d="M1051.6 1431V1427H1137V1431" stroke-width="1.2"/><text class="p" x="1094.3" y="1423">p=0.0393</text>
<text class="xl" x="1050.5" y="1566">TLRnull-ISAC</text><text class="xl" x="1137.2" y="1566">ISAC</text>
<text class="yl" transform="translate(957,1482) rotate(-90)" textLength="147" lengthAdjust="spacingAndGlyphs">Signaling Induction (arcsinh)</text>
</svg>
</body></html>
